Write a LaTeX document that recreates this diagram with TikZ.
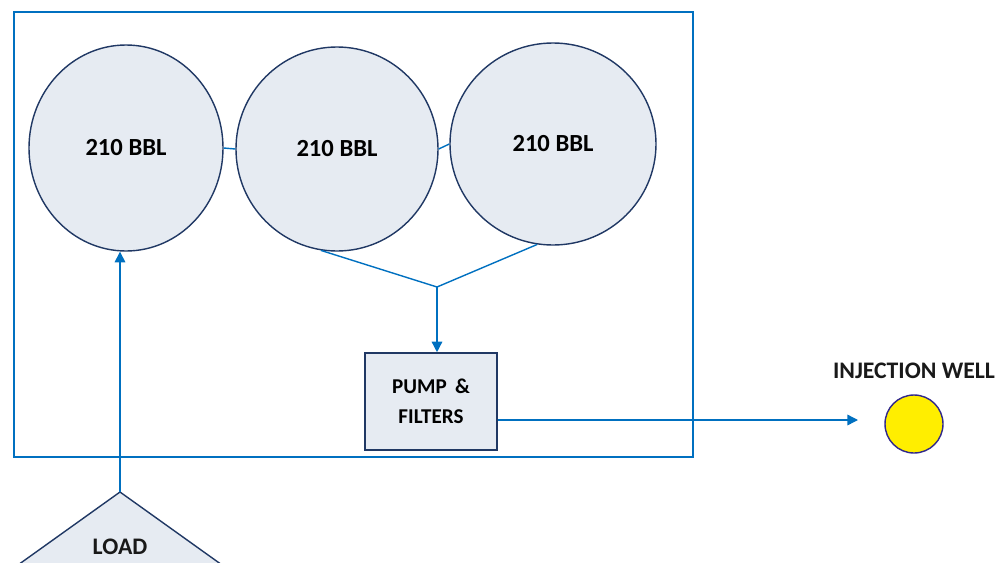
\documentclass[tikz,border=0pt]{standalone}
\usepackage{fontspec}
\setmainfont{Carlito}
\usetikzlibrary{shapes.geometric,arrows.meta}
\definecolor{pipeblue}{RGB}{0,112,192}
\definecolor{tankline}{RGB}{32,56,100}
\definecolor{tankfill}{RGB}{230,235,242}
\definecolor{wellfill}{RGB}{255,238,0}
\definecolor{wellline}{RGB}{48,40,140}
\tikzset{
    tank/.style={ellipse, draw=tankline, fill=tankfill, line width=0.8pt, inner sep=0pt, font=\fontsize{14}{16}\selectfont\bfseries},
    pipe/.style={draw=pipeblue, line width=0.8pt},
    flow/.style={pipe, -{Triangle[width=6pt,length=6pt]}},
    label/.style={text=black!90, font=\fontsize{13.5}{16}\selectfont\bfseries}
}
\begin{document}
\begin{tikzpicture}[x=0.2mm,y=-0.2mm]
    \useasboundingbox (0,0) rectangle (1007,562);
    \clip (0,0) rectangle (1007,562);
    \draw [pipeblue, line width=1.1pt] (14,12) rectangle (693,457);
    \node [tank, minimum width=38.8mm, minimum height=41.2mm] (tank1) at (126,148) {210 BBL};
    \node [tank, minimum width=40.4mm, minimum height=40.8mm] (tank2) at (337,149) {210 BBL};
    \node [tank, minimum width=41.2mm, minimum height=40.4mm] (tank3) at (553,144) {210 BBL};
    \node [draw=tankline, fill=tankfill, line width=0.9pt, minimum width=26.4mm, minimum height=19.4mm, align=center, font=\fontsize{12}{17}\selectfont\bfseries] (pump) at (431,401.5) {PUMP \,\&\\FILTERS};
    \node [circle, draw=wellline, fill=wellfill, line width=0.8pt, minimum size=11.6mm, inner sep=0pt] (well) at (914,424) {};
    \node [label] (welllabel) at (914,371) {INJECTION WELL};
    \coordinate (split) at (437,287);
    \coordinate (welltip) at (858,420);
    \coordinate (loadtip) at (120,492);
    \draw [draw=tankline, fill=tankfill, line width=0.8pt] (loadtip) -- (-31,600) -- (271,600) -- cycle;
    \node [label] (load) at (120,547) {LOAD};
    \draw [pipe] (tank1.east) -- (tank2.west);
    \draw [pipe] (tank2.east) -- (tank3.west);
    \draw [pipe] (tank2.-99) -- (split);
    \draw [pipe] (tank3.-99) -- (split);
    \draw [flow] (split) -- (split |- pump.north);
    \draw [flow] (pump.east |- welltip) -- (welltip);
    \draw [flow] (loadtip) -- (loadtip |- tank1.south);
\end{tikzpicture}
\end{document}
